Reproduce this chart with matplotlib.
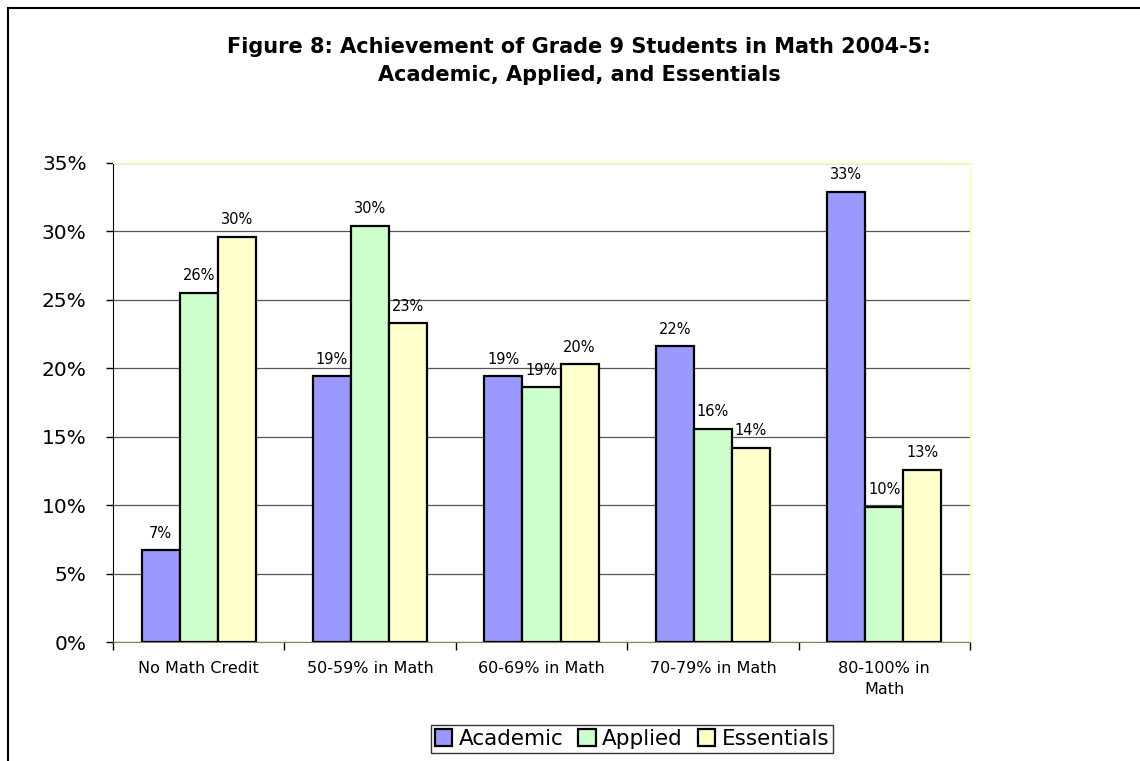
import matplotlib.pyplot as plt
import numpy as np
from matplotlib.lines import Line2D
from matplotlib.ticker import FuncFormatter

plt.rcParams['font.family'] = ['Liberation Sans', 'DejaVu Sans']

# Data
categories = ['No Math Credit', '50-59% in Math', '60-69% in Math',
              '70-79% in Math', '80-100% in\nMath']
academic = [6.7, 19.4, 19.4, 21.6, 32.9]
applied = [25.5, 30.4, 18.6, 15.6, 9.9]
essentials = [29.6, 23.3, 20.3, 14.2, 12.6]
series_names = ['Academic', 'Applied', 'Essentials']
colors = ['#9999ff', '#ccffcc', '#ffffcc']

fig = plt.figure(figsize=(11.4, 7.61), dpi=100)
ax = fig.add_axes([113 / 1140, 1 - 642 / 761, 857 / 1140, 479 / 761])

x = np.arange(len(categories))
w = 0.222
series = [academic, applied, essentials]
for i, (vals, name, col) in enumerate(zip(series, series_names, colors)):
    pos = x + (i - 1) * w
    bars = ax.bar(pos, vals, width=w, color=col, edgecolor='black',
                  linewidth=1.6, label=name, zorder=3)
    for b, v in zip(bars, vals):
        ax.text(b.get_x() + b.get_width() / 2, v + 0.7, f'{round(v):.0f}%',
                ha='center', va='bottom', fontsize=10.5, zorder=4,
                family='DejaVu Sans')

ax.set_xlim(-0.5, len(categories) - 0.5)
ax.set_ylim(0, 35)
ax.set_yticks(np.arange(0, 36, 5))
ax.yaxis.set_major_formatter(FuncFormatter(lambda v, p: f'{v:.0f}%'))
ax.tick_params(axis='y', labelsize=14.5, length=5, width=1, direction='out', pad=14)
for lab in ax.get_yticklabels():
    lab.set_family('DejaVu Sans')
ax.grid(axis='y', color='#555555', linewidth=0.9, zorder=0)

# category labels centred, ticks between groups
ax.set_xticks(np.arange(-0.5, len(categories), 1))
ax.set_xticklabels([])
ax.set_xticks(x, minor=True)
ax.set_xticklabels(categories, minor=True, fontsize=11.5, family='DejaVu Sans',
                   linespacing=1.5)
ax.tick_params(axis='x', which='minor', length=0, pad=14)
ax.tick_params(axis='x', which='major', length=6, width=1, color='black')

ax.spines['left'].set_color('black')
ax.spines['bottom'].set_color('#808060')
ax.spines['top'].set_color('#ffff99')
ax.spines['right'].set_color('#ffff99')

fig.text(579 / 1140, 1 - 61 / 761, 'Figure 8: Achievement of Grade 9 Students in Math 2004-5:\nAcademic, Applied, and Essentials',
         ha='center', va='center', fontsize=15, fontweight='bold', linespacing=1.5,
         family='DejaVu Sans')

leg = fig.legend(loc='center', bbox_to_anchor=(632 / 1140, 1 - 739 / 761), ncol=3,
                 prop={'family': 'DejaVu Sans', 'size': 15.5},
                 frameon=True, fancybox=False, edgecolor='black',
                 handlelength=0.8, handleheight=0.8, handletextpad=0.3,
                 columnspacing=0.7, borderpad=0.2)
leg.get_frame().set_linewidth(1.0)

# outer chart border (top and left edges visible)
fig.add_artist(Line2D([8 / 1140, 1], [1 - 8 / 761] * 2, transform=fig.transFigure,
                      color='black', linewidth=1.5))
fig.add_artist(Line2D([8 / 1140] * 2, [0, 1 - 8 / 761], transform=fig.transFigure,
                      color='black', linewidth=1.5))

plt.savefig('out.png', dpi=100)
